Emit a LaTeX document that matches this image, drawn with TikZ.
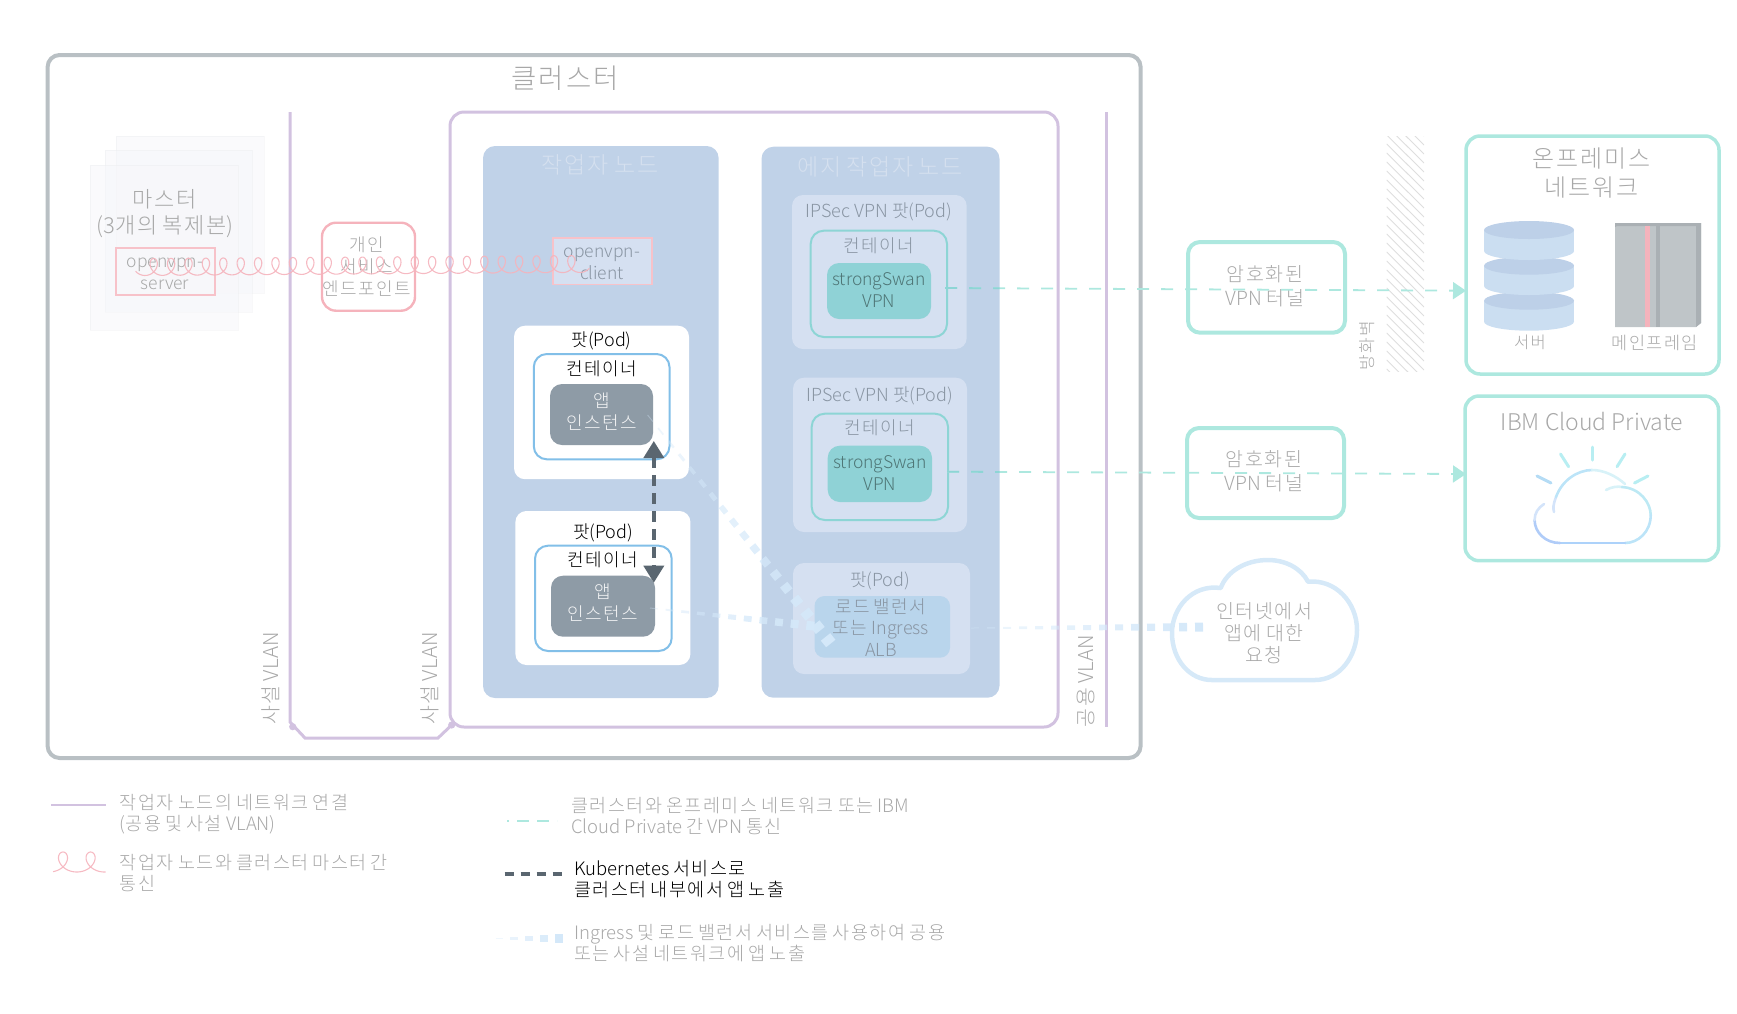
\documentclass[tikz,border=0pt]{standalone}
\usepackage{fontspec}
\setmainfont{Noto Sans CJK KR}[UprightFont=* Light,BoldFont=*]
\usetikzlibrary{arrows.meta,calc}
\newXeTeXintercharclass\hgcls
\count255="AC00
\loop\ifnum\count255<"D7A4 \XeTeXcharclass\count255=\hgcls \advance\count255 by 1 \repeat
\XeTeXinterchartoks\hgcls\hgcls={\kern .08em\relax}
\XeTeXinterchartokenstate=1
\definecolor{cluline}{HTML}{B9C0C4}
\definecolor{purp}{HTML}{D2C2E0}
\definecolor{nodeblue}{HTML}{C0D2E8}
\definecolor{podlight}{HTML}{D5E0F1}
\definecolor{tealline}{HTML}{ADE8DF}
\definecolor{tealdk}{HTML}{8DD5D5}
\definecolor{tealfill}{HTML}{8FD2D6}
\definecolor{contblue}{HTML}{82BFE8}
\definecolor{appgrey}{HTML}{8E9BA6}
\definecolor{lbfill}{HTML}{B9D5EC}
\definecolor{pinkln}{HTML}{F5B3BC}
\definecolor{ltxt}{HTML}{A8A8A8}
\definecolor{btxt}{HTML}{8995A3}
\definecolor{nodetxt}{HTML}{D5E0EF}
\definecolor{dkarrow}{HTML}{5A6670}
\definecolor{ingr}{HTML}{D4E8F9}
\definecolor{cloudln}{HTML}{D6E9F8}
\definecolor{hatch}{HTML}{DEDEDE}
\definecolor{mastf}{HTML}{F6F7FA}
\definecolor{mfmain}{HTML}{BFC5C8}
\definecolor{mfdark}{HTML}{AAB0B4}
\definecolor{CylB}{HTML}{CBDEF1}
\definecolor{CylT}{HTML}{BDD0E8}
\newcommand{\fs}[2]{\fontsize{#1}{#2}\selectfont}
\newcommand{\taperline}[5]{%
  \foreach \i in {0,...,\numexpr#3-1\relax}{%
    \pgfmathsetmacro{\ta}{\i/#3}
    \pgfmathsetmacro{\tb}{(\i+0.5)/#3}
    \pgfmathsetmacro{\wd}{#5+(#4-#5)*\i/(#3-1)}
    \pgfmathsetmacro{\op}{0.35+0.65*\i/(#3-1)}
    \draw[ingr,line width=\wd pt,opacity=\op] ($(#1)!\ta!(#2)$) -- ($(#1)!\tb!(#2)$);
  }}
\tikzset{
  boxn/.style={inner sep=0pt,outer sep=0pt,anchor=north west},
  clusterbox/.style={boxn,draw=cluline,line width=4pt,rounded corners=12pt},
  netline/.style={purp,line width=3pt},
  workerbox/.style={boxn,draw=purp,line width=3pt,rounded corners=14pt},
  nodebox/.style={boxn,fill=nodeblue,rounded corners=12pt},
  lightpod/.style={boxn,fill=podlight,rounded corners=11pt},
  whitepod/.style={boxn,fill=white,rounded corners=11pt},
  contb/.style={boxn,draw=contblue,line width=2pt,rounded corners=13pt},
  contt/.style={boxn,draw=tealdk,line width=2pt,rounded corners=13pt},
  appbox/.style={boxn,fill=appgrey,rounded corners=12pt},
  swanbox/.style={boxn,fill=tealfill,rounded corners=12pt},
  lbbox/.style={boxn,fill=lbfill,rounded corners=10pt},
  mast/.style={boxn,fill=mastf,draw=mastf!92!black,line width=.5pt,fill opacity=.6,draw opacity=.25},
  vpnbox/.style={boxn,draw=tealline,line width=4pt,rounded corners=12pt},
  netbox/.style={boxn,draw=tealline,line width=3.5pt,rounded corners=14pt},
  pinkbox/.style={boxn,draw=pinkln!80!white,line width=1.1pt},
  endptbox/.style={boxn,draw=pinkln,line width=2.4pt,rounded corners=14pt},
  lab/.style={inner sep=0pt,yshift=-1pt,align=center,text=ltxt,font=\fs{18}{22}},
  blab/.style={lab,text=btxt},
  wlab/.style={lab,text=white!90!appgrey},
  klab/.style={lab,text=black},
  leg/.style={inner sep=0pt,anchor=west,align=left,text=ltxt,font=\fs{18.5}{21}},
  vlan/.style={lab,rotate=90,font=\fs{20.5}{22}},
  vpndash/.style={tealline,line width=1.8pt,dash pattern=on 12pt off 12pt,-{Triangle[length=13pt,width=17pt,fill=tealline]}},
  vpndashdk/.style={tealdk,line width=1.8pt,dash pattern=on 12pt off 12pt},
  vpndashlg/.style={tealline,line width=2pt,dash pattern=on 12pt off 12pt},
  kubearrow/.style={dkarrow,line width=3.5pt,dash pattern=on 11pt off 7pt},
  coilln/.style={draw=pinkln,line width=1.1pt,opacity=.9,line join=round},
  cloudstroke/.style={line width=2.6pt,line cap=round},
}
\newcommand{\cyl}[2]{%
  \fill[CylB] (1484,#1) rectangle (1574,#2);
  \fill[CylB] (1529,#2) ellipse[x radius=45,y radius=9];
  \fill[CylT] (1529,#1) ellipse[x radius=45,y radius=9];}
\begin{document}
\begin{tikzpicture}[x=1pt,y=-1pt]
\useasboundingbox (0,0) rectangle (1737,1013);
% cluster
\node[clusterbox,minimum width=1093pt,minimum height=703pt] (cluster) at (47.6,55) {};
\node[lab,font=\fs{27.5}{32}] (clustert) at (565,77) {클러스터};
% master
\node[mast,minimum width=148pt,minimum height=157pt] (m1) at (116,136) {};
\node[mast,minimum width=147pt,minimum height=162pt] (m2) at (105,150) {};
\node[mast,minimum width=148pt,minimum height=165pt] (m3) at (90,165) {};
\node[lab,font=\fs{22}{26}] (mastert) at (165,213) {마스터\\(3개의 복제본)};
\node[pinkbox,minimum width=99pt,minimum height=47pt] (ovs) at (116,248) {};
\node[lab,font=\fs{17.5}{21.5}] (ovst) at (165,273) {openvpn-\\server};
% network lines
\coordinate (pl1t) at (290,112);
\coordinate (pl1b) at (290,722);
\coordinate (pd1) at (305,738);
\coordinate (pd2) at (438,738);
\coordinate (pd3) at (451.7,725);
\draw[netline,line width=3pt] (pl1t) -- (pl1b) -- (pd1) -- (pd2) -- (pd3);
\fill[purp] (292.7,726.7) circle (3.6pt);
\node[workerbox,minimum width=608pt,minimum height=615pt] (worker) at (450,112) {};
\fill[purp] (451.7,725) circle (3.6pt);
\coordinate (pl3t) at (1106,112);
\coordinate (pl3b) at (1106,727);
\draw[netline] (pl3t) -- (pl3b);
% endpoint
\node[endptbox,minimum width=93pt,minimum height=88pt] (endpt) at (322,222.7) {};
\node[lab,font=\fs{18}{22}] (endptt) at (366.5,266) {개인\\서비스\\엔드포인트};
% worker node
\node[nodebox,minimum width=235.6pt,minimum height=552pt] (wn) at (483,146) {};
\node[lab,font=\fs{23}{27},text=nodetxt] (wnt) at (600,164) {작업자 노드};
\node[pinkbox,fill=podlight,minimum width=99pt,minimum height=46.7pt] (ovc) at (553,238) {};
\node[blab,font=\fs{17.5}{22}] (ovct) at (602,263) {openvpn-\\client};
% pod1
\node[whitepod,minimum width=175pt,minimum height=153.5pt] (pod1) at (514,325.7) {};
\node[klab] (pod1t) at (601.6,340) {팟(Pod)};
\node[contb,minimum width=135.7pt,minimum height=105.3pt] (c1) at (533.8,354) {};
\node[klab] (c1t) at (601.6,368) {컨테이너};
\node[appbox,minimum width=103pt,minimum height=61pt] (a1) at (550,384) {};
\node[wlab] (a1t) at (601.6,411) {앱\\인스턴스};
% pod2
\node[whitepod,minimum width=175pt,minimum height=154pt] (pod2) at (515.4,511) {};
\node[klab] (pod2t) at (603,531.7) {팟(Pod)};
\node[contb,minimum width=136.7pt,minimum height=105.3pt] (c2) at (535,545.7) {};
\node[klab] (c2t) at (603,559) {컨테이너};
\node[appbox,minimum width=104pt,minimum height=61pt] (a2) at (551,575.7) {};
\node[wlab] (a2t) at (603,602) {앱\\인스턴스};
% edge node
\node[nodebox,minimum width=238pt,minimum height=551pt] (en) at (761.5,146.7) {};
\node[lab,font=\fs{23}{27},text=nodetxt] (ent) at (880,165.7) {에지 작업자 노드};
\node[lightpod,minimum width=174.7pt,minimum height=154pt] (ip1) at (792,195) {};
\node[blab] (ip1t) at (879,211) {IPSec VPN 팟(Pod)};
\node[contt,minimum width=136.3pt,minimum height=106.3pt] (ic1) at (810.7,230.7) {};
\node[blab] (ic1t) at (879,244.5) {컨테이너};
\node[swanbox,minimum width=104pt,minimum height=56pt] (s1) at (827,263) {};
\node[blab,font=\fs{17.5}{22},text=black!45!tealdk] (s1t) at (879,289) {strongSwan\\VPN};
\node[lightpod,minimum width=174pt,minimum height=154.3pt] (ip2) at (793,377.7) {};
\node[blab] (ip2t) at (880,394.5) {IPSec VPN 팟(Pod)};
\node[contt,minimum width=136.3pt,minimum height=106.3pt] (ic2) at (811.7,413.7) {};
\node[blab] (ic2t) at (880,427) {컨테이너};
\node[swanbox,minimum width=104.3pt,minimum height=56.3pt] (s2) at (827.7,445.7) {};
\node[blab,font=\fs{17.5}{22},text=black!45!tealdk] (s2t) at (880,472) {strongSwan\\VPN};
\node[lightpod,minimum width=177pt,minimum height=111pt] (lbp) at (793,563) {};
\node[blab] (lbpt) at (880,580) {팟(Pod)};
\node[lbbox,minimum width=135.5pt,minimum height=61.7pt] (lb) at (814.5,596) {};
\node[blab,font=\fs{18}{21.5}] (lbt) at (881,626.5) {로드 밸런서\\또는 Ingress\\ALB};
% vlan labels
\node[vlan] (v1) at (271,677.7) {사설 VLAN};
\node[vlan] (v2) at (430,677.7) {사설 VLAN};
\node[vlan] (v3) at (1086.4,680) {공용 VLAN};
% vpn tunnels
\node[vpnbox,minimum width=157pt,minimum height=90.7pt] (t1) at (1188,242) {};
\node[lab,font=\fs{19.5}{24}] (t1t) at (1265,285) {암호화된\\VPN 터널};
\node[vpnbox,minimum width=157pt,minimum height=90pt] (t2) at (1187,428) {};
\node[lab,font=\fs{19.5}{24}] (t2t) at (1264,470.5) {암호화된\\VPN 터널};
% firewall
\begin{scope}
\clip (1386.7,136) rectangle (1424,371.7);
\foreach \yy in {90,99,...,372}{\draw[hatch,line width=.9pt] (1386.7,\yy) -- (1424,\yy+37);}
\end{scope}
\node[vlan,font=\fs{17}{20}] (fw) at (1367,345) {방화벽};
% on-prem
\node[netbox,minimum width=253pt,minimum height=238pt] (onprem) at (1466,136) {};
\node[lab,font=\fs{24}{29}] (onpremt) at (1592,172) {온프레미스\\네트워크};
\cyl{300.7}{321.7}
\cyl{265.7}{286}
\cyl{230}{251}
\node[lab,font=\fs{16.5}{20}] (srvt) at (1530,341.7) {서버};
\fill[mfmain] (1615,223) -- (1701,223) -- (1701,323) -- (1696,327) -- (1615,327) -- cycle;
\fill[mfdark] (1615,223) -- (1701,223) -- (1701,323) -- (1696,327) -- (1696,226) -- (1617,226) -- (1615,227) -- cycle;
\fill[pinkln] (1645,226) rectangle (1650,327);
\fill[mfdark] (1656,226) rectangle (1660,327);
\node[lab,font=\fs{17.5}{20}] (mft) at (1655,341.7) {메인프레임};
% ibm cloud
\node[netbox,minimum width=253.5pt,minimum height=164.7pt] (ibm) at (1465,396) {};
\node[lab,font=\fs{23}{28}] (ibmt) at (1592,420) {IBM Cloud Private};
\definecolor{raya}{HTML}{B8EEF2}
\definecolor{rayb}{HTML}{B5DCF5}
\definecolor{cla}{HTML}{D8F2F8}
\definecolor{clb}{HTML}{BDE9F4}
\definecolor{clc}{HTML}{BCE4F8}
\definecolor{cld}{HTML}{ADD2FA}
\definecolor{cle}{HTML}{B0CCF8}
\definecolor{clf}{HTML}{D4E4FA}
\begin{scope}[cloudstroke]
\draw[raya,line width=3pt] (1592,447) -- (1592,460);
\draw[raya,line width=3pt] (1560.5,454) -- (1568.6,466.7);
\draw[raya,line width=3pt] (1625,454) -- (1617,466.7);
\draw[rayb,line width=3pt] (1537,476) -- (1551,483);
\draw[raya,line width=3pt] (1648,476) -- (1634.5,483);
\draw[clf] (1554,512) .. controls (1553,508) and (1553,505) .. (1556,497);
\draw[clc] (1556,497) .. controls (1562,480) and (1578,470) .. (1592,470);
\draw[cla] (1592,470) .. controls (1604,470) and (1616,476) .. (1625,484);
\draw[cla] (1606,490) .. controls (1611,487) and (1618,486) .. (1622,487);
\draw[clb] (1622,487) .. controls (1640,488) and (1650.7,503) .. (1650.7,515);
\draw[clc] (1650.7,515) .. controls (1650.7,532) and (1638,543) .. (1625,543);
\draw[cld] (1625,543) -- (1560,543);
\draw[cle] (1560,543) .. controls (1545,543) and (1534.6,532) .. (1534.6,520);
\draw[clf] (1534.6,520) .. controls (1534.6,513) and (1538,508) .. (1544,504);
\end{scope}
% internet cloud
\draw[cloudln,line width=4.5pt,line join=round] (1211.7,680) -- (1315,680)
  .. controls (1340,680) and (1357,656) .. (1357,630)
  .. controls (1357,602) and (1335,579) .. (1308,581.7)
  .. controls (1301,568) and (1285,560) .. (1268,560)
  .. controls (1246,560) and (1227,571) .. (1220.7,588)
  .. controls (1192,584) and (1172,608) .. (1172,633)
  .. controls (1172,660) and (1190,680) .. (1211.7,680) -- cycle;
\node[lab,font=\fs{19.5}{22}] (inett) at (1264,632.5) {인터넷에서\\앱에 대한\\요청};
% tapered paths
\coordinate (ia1) at (647.6,415);
\coordinate (ia2) at (836,650);
\coordinate (ib1) at (650,608);
\coordinate (ib2) at (822,627);
\coordinate (ic1a) at (971,628);
\coordinate (ic2a) at (1211,627);
\taperline{ia1}{ia2}{18}{12}{1}
\taperline{ib1}{ib2}{11}{9}{1}
\taperline{ic1a}{ic2a}{15}{9}{1}
% vpn dashes
\coordinate (vs1) at (945,288);
\coordinate (ve1) at (1466,290.7);
\coordinate (vs2) at (947,471.7);
\coordinate (ve2) at (1466,474);
\draw[vpndash] (vs1) -- (ve1);
\draw[vpndash] (vs2) -- (ve2);
\begin{scope}
\clip (761.5,146.7) rectangle (999.5,697.7);
\draw[vpndashdk] (vs1) -- (ve1);
\draw[vpndashdk] (vs2) -- (ve2);
\end{scope}
% kube arrow
\coordinate (ku) at (653.8,441);
\coordinate (kd) at (653.8,582.7);
\draw[kubearrow,{Triangle[length=17pt,width=20pt,fill=dkarrow]}-{Triangle[length=17pt,width=20pt,fill=dkarrow]}] (ku) -- (kd);
% coil
\coordinate (cs) at (145,267);
\begin{scope}[shift={(cs)}]
\draw[coilln] plot[smooth,domain=-60:9060,samples=640] ({0.048333*\x+7.5*sin(\x)},{8.5*cos(\x)-0.000333*\x});
\end{scope}
% legend
\coordinate (lg1a) at (51,805); \coordinate (lg1b) at (106,805);
\draw[purp,line width=2.6pt] (lg1a) -- (lg1b);
\node[leg] (lg1t) at (119.7,814.5) {작업자 노드의 네트워크 연결\\(공용 및 사설 VLAN)};
\coordinate (lg2a) at (49.2,862);
\begin{scope}[shift={(lg2a)}]
\draw[coilln] plot[smooth,domain=15:725,samples=90] ({0.076667*\x+10.5*sin(\x)},{10*cos(\x)});
\end{scope}
\node[leg] (lg2t) at (119.7,873.3) {작업자 노드와 클러스터 마스터 간\\통신};
\coordinate (lg3a) at (507,820.7); \coordinate (lg3b) at (557,820.7);
\draw[vpndashlg,dash pattern=on 12pt off 8pt,dash phase=10pt] (lg3a) -- (lg3b);
\node[leg] (lg3t) at (571,816) {클러스터와 온프레미스 네트워크 또는 IBM\\Cloud Private 간 VPN 통신};
\coordinate (lg4a) at (504.5,874); \coordinate (lg4b) at (561.5,874);
\draw[kubearrow,dash pattern=on 9pt off 7pt] (lg4a) -- (lg4b);
\node[leg,text=black] (lg4t) at (574,879) {Kubernetes 서비스로\\클러스터 내부에서 앱 노출};
\coordinate (lg5a) at (495.5,938); \coordinate (lg5b) at (570,938);
\taperline{lg5a}{lg5b}{5}{9}{1}
\node[leg] (lg5t) at (574,943) {Ingress 및 로드 밸런서 서비스를 사용하여 공용\\또는 사설 네트워크에 앱 노출};
\end{tikzpicture}
\end{document}
